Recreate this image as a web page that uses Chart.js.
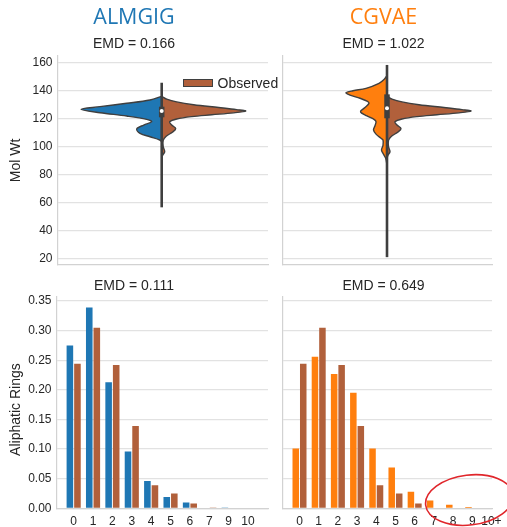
<!DOCTYPE html>
<html>
<head>
<meta charset="utf-8">
<script src="https://cdn.jsdelivr.net/npm/chart.js@4.4.1/dist/chart.umd.min.js"></script>
<style>
html, body { margin: 0; padding: 0; background: #fff; overflow: hidden; }
#fig { position: relative; width: 507px; height: 527px; overflow: hidden; }
canvas { position: absolute; }
#legend { position: absolute; left: 183px; top: 75px; height: 16px; line-height: 16px;
  font: 14px "Liberation Sans", Arial, sans-serif; color: #262626; display: flex; align-items: center; }
#legend .sw { display: inline-block; box-sizing: border-box; width: 30px; height: 8.5px;
  background: #b1603b; border: 1px solid #3f3f3f; margin-right: 4.5px; }
</style>
</head>
<body>
<div id="fig">
  <canvas id="tl" width="275" height="275" style="left:0;top:0"></canvas>
  <canvas id="tr" width="232" height="275" style="left:275px;top:0"></canvas>
  <canvas id="bl" width="275" height="256" style="left:0;top:275px"></canvas>
  <canvas id="br" width="232" height="256" style="left:275px;top:275px"></canvas>
  <div id="legend"><span class="sw"></span>Observed</div>
</div>
<script>
// valeurs

const models = ['ALMGIG', 'CGVAE'];
const modelColors = ['#1f77b4', '#ff7f0e'];
const obsColor = '#b1603b';
const emdMolWt = ['0.166', '1.022'];
const emdRings = ['0.111', '0.649'];

// Mol Wt : profils des violons (demi-largeur, en 1/100 d'unité de l'axe x)
const molTicks = [20, 40, 60, 80, 100, 120, 140, 160];

const almgigMw   = [136, 133.4, 131, 128.6, 126.7, 124.3, 121.9, 119.5, 117.9, 115.5, 112.7, 109.6, 107.1, 104.8, 103.5];
const almgigDens = [0, 11.7, 35, 61.7, 80.7, 61.7, 35, 15, 10, 18, 25, 21.7, 11.7, 2, 0];

const cgvaeMw   = [151, 148, 145.3, 141.7, 140, 138.6, 136.9, 134.6, 132.5, 131, 128, 125, 122, 119.5, 117.9, 115, 112, 109, 106, 104.8, 101, 97.6, 94, 91.7, 87];
const cgvaeDens = [0, 3, 8, 21, 34, 41, 37, 27, 20, 18, 22, 26.5, 20, 13, 11, 12, 13.5, 11, 6, 4, 4, 5.5, 3, 1.3, 0];

const obsMw   = [136, 134, 132, 130, 128, 126.5, 125.5, 124.2, 122.8, 121.5, 119.8, 117.8, 115.5, 113, 110.5, 107.5, 104.5, 100, 96.5, 94, 92];
const obsDens = [0, 5, 15, 32, 57, 75, 84, 72, 50, 30, 15, 8, 10, 14, 11, 4.5, 1.5, 1.5, 3, 1, 0];

// boîte : [moustache basse, q1, médiane, q3, moustache haute]
const almgigBox = [56.7, 121.0, 125.5, 128.6, 145.7];
const cgvaeBox  = [21.1, 120.3, 127.4, 137.4, 158.4];

// Aliphatic Rings : histogrammes
const ringTicks = [0, 0.05, 0.10, 0.15, 0.20, 0.25, 0.30, 0.35];

const almgigRingLabels = ['0', '1', '2', '3', '4', '5', '6', '7', '9', '10'];
const almgigRings    = [0.275, 0.339, 0.213, 0.096, 0.046, 0.019, 0.010, 0.0008, 0.0005, 0.0008];
const almgigObsRings = [0.244, 0.305, 0.242, 0.139, 0.039, 0.025, 0.008, 0.0004, 0, 0];

const cgvaeRingLabels = ['0', '1', '2', '3', '4', '5', '6', '7', '8', '9', '10+'];
const cgvaeRings    = [0.101, 0.256, 0.227, 0.195, 0.101, 0.069, 0.028, 0.013, 0.006, 0.002, 0];
const cgvaeObsRings = [0.244, 0.305, 0.242, 0.139, 0.039, 0.025, 0.008, 0, 0, 0, 0];

const FONT = "'Liberation Sans', Arial, sans-serif";
const TXT = '#262626';
const GRID = '#e2e2e2';
const SPINE = '#d2d2d2';
const EDGE = '#3f3f3f';

Chart.defaults.font.family = FONT;
Chart.defaults.color = TXT;
Chart.defaults.animation = false;
Chart.defaults.events = [];
Chart.defaults.plugins.legend.display = false;
Chart.defaults.plugins.tooltip.enabled = false;

// pas de marges automatiques pour les étiquettes : la zone de tracé reste là où on la veut
function fixY(width) {
  return s => { s.width = width; s.paddingTop = 0; s.paddingBottom = 0; };
}
function fixX(height) {
  return s => { s.height = height; s.paddingLeft = 0; s.paddingRight = 0; };
}

function violinChart(id, k, mw, dens, box, xMin, xMax, yWidth, padRight, showY) {
  return new Chart(document.getElementById(id), {
    type: 'line',
    data: {
      datasets: [
        { data: [{ x: 0, y: box[2] }], showLine: false, pointRadius: 2, pointBackgroundColor: '#fff', pointBorderWidth: 0 },
        { data: [{ x: 0, y: box[1] }, { x: 0, y: box[3] }], borderColor: EDGE, borderWidth: 5.5, borderCapStyle: 'butt', pointRadius: 0 },
        { data: [{ x: 0, y: box[0] }, { x: 0, y: box[4] }], borderColor: EDGE, borderWidth: 2.6, pointRadius: 0 },
        { data: mw.map((m, i) => ({ x: -dens[i] / 100, y: m })), fill: 'origin', backgroundColor: modelColors[k],
          borderColor: EDGE, borderWidth: 1.4, pointRadius: 0, tension: 0.35 },
        { data: obsMw.map((m, i) => ({ x: obsDens[i] / 100, y: m })), fill: 'origin', backgroundColor: obsColor,
          borderColor: EDGE, borderWidth: 1.4, pointRadius: 0, tension: 0.35 }
      ]
    },
    options: {
      indexAxis: 'y',
      responsive: false,
      devicePixelRatio: 1,
      layout: { padding: { top: 5, left: 0, right: padRight, bottom: 10 } },
      plugins: {
        title: { display: true, text: models[k], color: modelColors[k],
                 font: { family: "'Open Sans', sans-serif", size: 21.5, weight: 'normal' }, padding: { top: 0, bottom: 0 } },
        subtitle: { display: true, text: 'EMD = ' + emdMolWt[k], color: TXT,
                    font: { size: 14 }, padding: { top: 4.8, bottom: 3.6 } }
      },
      scales: {
        x: { type: 'linear', min: xMin, max: xMax,
             afterFit: fixX(0),
             grid: { display: false, drawTicks: false },
             ticks: { display: false },
             border: { display: true, color: SPINE, width: 1.2 } },
        y: { type: 'linear', min: 15.5, max: 164.8,
             afterBuildTicks: s => { s.ticks = molTicks.map(v => ({ value: v })); },
             afterFit: fixY(yWidth),
             grid: { color: GRID, lineWidth: 1.2, drawTicks: false },
             border: { display: true, color: SPINE, width: 1.2 },
             ticks: { display: showY, padding: 5.5, font: { size: 12 } },
             title: { display: showY, text: 'Mol Wt', font: { size: 14 }, padding: { top: 7.5, bottom: 0 } } }
      }
    }
  });
}

// ellipse rouge autour de la queue de distribution (annotation du panneau CGVAE)
const circlePlugin = {
  id: 'circle',
  afterDraw(chart) {
    const { ctx, scales: { x, y } } = chart;
    ctx.save();
    ctx.strokeStyle = '#e0262b';
    ctx.lineWidth = 1.6;
    ctx.beginPath();
    ctx.ellipse(x.getPixelForValue(8.85), y.getPixelForValue(0.014), 44, 25, -0.12, 0, 2 * Math.PI);
    ctx.stroke();
    ctx.restore();
  }
};

// titre de l'axe y du panneau du bas, un peu plus bas que le centre comme dans l'original
const ringsTitlePlugin = {
  id: 'ringsTitle',
  afterDraw(chart) {
    const { ctx, chartArea } = chart;
    ctx.save();
    ctx.translate(15.9, (chartArea.top + chartArea.bottom) / 2 + 7);
    ctx.rotate(-Math.PI / 2);
    ctx.font = '14px ' + FONT;
    ctx.fillStyle = TXT;
    ctx.textAlign = 'center';
    ctx.textBaseline = 'middle';
    ctx.fillText('Aliphatic Rings', 0, 0);
    ctx.restore();
  }
};

function barChart(id, k, labels, gen, obs, yWidth, padRight, showY, plugins) {
  return new Chart(document.getElementById(id), {
    type: 'bar',
    data: {
      datasets: [
        { data: gen.map((v, i) => ({ x: i, y: v })), backgroundColor: modelColors[k], categoryPercentage: 0.78, barPercentage: 0.87 },
        { data: obs.map((v, i) => ({ x: i, y: v })), backgroundColor: obsColor, categoryPercentage: 0.78, barPercentage: 0.87 }
      ]
    },
    plugins: plugins || [],
    options: {
      responsive: false,
      devicePixelRatio: 1,
      layout: { padding: { top: 2.6, left: 0, right: padRight, bottom: 2.1 } },
      plugins: {
        title: { display: true, text: 'EMD = ' + emdRings[k], color: TXT,
                 font: { size: 14, weight: 'normal' }, padding: { top: 0, bottom: 2.5 } }
      },
      scales: {
        x: { type: 'linear', min: -0.86, max: 10.03, offset: false,
             afterBuildTicks: s => { s.ticks = labels.map((_, i) => ({ value: i })); },
             afterFit: fixX(20.6),
             grid: { display: false, drawTicks: false },
             border: { display: true, color: SPINE, width: 1.2 },
             ticks: { autoSkip: false, maxRotation: 0, minRotation: 0, padding: 6.2, font: { size: 12 },
                      callback: v => labels[v] } },
        y: { type: 'linear', min: 0, max: 0.357,
             afterBuildTicks: s => { s.ticks = ringTicks.map(v => ({ value: v })); },
             afterFit: fixY(yWidth),
             grid: { color: GRID, lineWidth: 1.2, drawTicks: false },
             border: { display: true, color: SPINE, width: 1.2 },
             ticks: { display: showY, padding: 5.5, font: { size: 12 }, callback: v => v.toFixed(2) } }
      }
    }
  });
}

violinChart('tl', 0, almgigMw, almgigDens, almgigBox, -1.037, 1.063, 58, 7, true);
violinChart('tr', 1, cgvaeMw, cgvaeDens, cgvaeBox, -1.04, 1.05, 8, 15, false);
barChart('bl', 0, almgigRingLabels, almgigRings, almgigObsRings, 57, 7, true, [ringsTitlePlugin]);
barChart('br', 1, cgvaeRingLabels, cgvaeRings, cgvaeObsRings, 8, 15, false, [circlePlugin]);
</script>
</body>
</html>
